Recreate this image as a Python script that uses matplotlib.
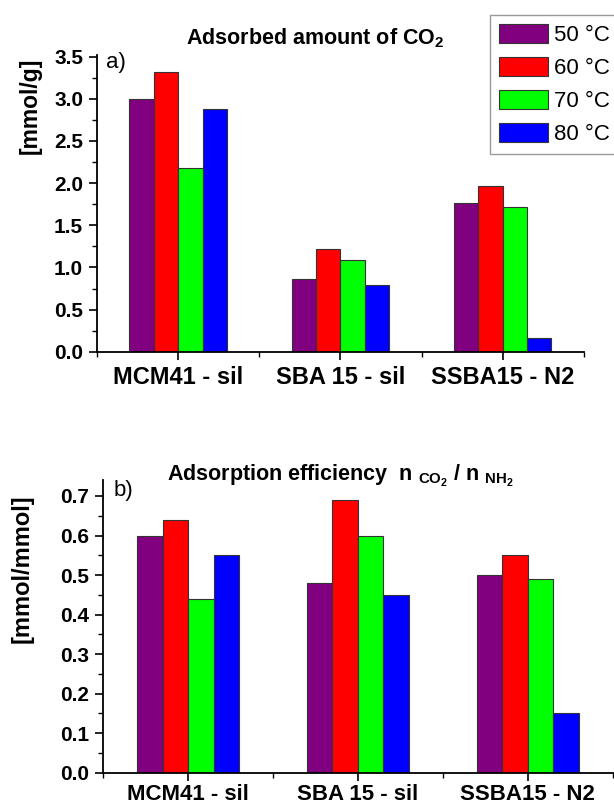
import numpy as np
import matplotlib
matplotlib.use("Agg")
import matplotlib.pyplot as plt
from matplotlib.ticker import MultipleLocator, FixedLocator

plt.rcParams['font.family'] = ['Liberation Sans', 'DejaVu Sans']
plt.rcParams['mathtext.default'] = 'regular'

samples = ["MCM41 - sil", "SBA 15 - sil", "SSBA15 - N2"]
temps = ["50 °C", "60 °C", "70 °C", "80 °C"]
colors = ["#800080", "#ff0000", "#00ff00", "#0000ff"]

# adsorbed CO2 [mmol/g], one list per temperature
co2_50 = [3.00, 0.86, 1.76]
co2_60 = [3.32, 1.22, 1.96]
co2_70 = [2.18, 1.09, 1.72]
co2_80 = [2.88, 0.79, 0.16]

# efficiency n_CO2 / n_NH2 [mmol/mmol]
eff_50 = [0.60, 0.48, 0.50]
eff_60 = [0.64, 0.69, 0.55]
eff_70 = [0.44, 0.60, 0.49]
eff_80 = [0.55, 0.45, 0.15]

x = np.arange(1, len(samples) + 1)
w = 0.15


def draw(ax, series, ymax, major, minor, xfs, xpad):
    for k, vals in enumerate(series):
        ax.bar(x + (k - 1.5) * w, vals, w, color=colors[k], edgecolor="#333333",
               linewidth=0.8, label=temps[k])
    ax.set_xlim(0.5, 3.5)
    ax.set_ylim(0, ymax)
    ax.spines['top'].set_visible(False)
    ax.spines['right'].set_visible(False)
    for s in ['left', 'bottom']:
        ax.spines[s].set_linewidth(1.3)
    ax.set_xticks(x)
    ax.set_xticklabels(samples, fontsize=xfs, fontweight='bold')
    ax.xaxis.set_minor_locator(FixedLocator([0.5, 1.5, 2.5, 3.5]))
    ax.yaxis.set_major_locator(MultipleLocator(major))
    ax.yaxis.set_minor_locator(MultipleLocator(minor))
    ax.yaxis.set_major_formatter(matplotlib.ticker.FormatStrFormatter('%.1f'))
    ax.tick_params(which='major', direction='out', length=6, width=1.2, pad=4)
    ax.tick_params(which='minor', direction='out', length=3.5, width=1.0)
    ax.tick_params(axis='x', which='major', pad=xpad)
    ax.tick_params(axis='y', which='major', labelsize=15)
    for t in ax.get_yticklabels():
        t.set_fontweight('bold')


fig = plt.figure(figsize=(6.14, 8.07), dpi=100)

ax1 = fig.add_axes([0.158, 0.564, 0.793, 0.368])
draw(ax1, [co2_50, co2_60, co2_70, co2_80], 3.52, 0.5, 0.25, 17, 4)
ax1.set_ylabel("[mmol/g]", fontsize=16.5, fontweight='bold')
ax1.yaxis.set_label_coords(-0.113, 0.83)
ax1.text(0.018, 1.01, "a)", transform=ax1.transAxes, fontsize=16, va='top')
fig.text(0.513, 0.953, r"Adsorbed amount of CO$_{2}$", fontsize=15.5,
         fontweight='bold', ha='center', va='center')

ax2 = fig.add_axes([0.168, 0.0425, 0.83, 0.3625])
draw(ax2, [eff_50, eff_60, eff_70, eff_80], 0.74, 0.1, 0.05, 16, 2)
ax2.set_ylabel("[mmol/mmol]", fontsize=17, fontweight='bold')
ax2.yaxis.set_label_coords(-0.137, 0.696)
ax2.text(0.02, 1.0, "b)", transform=ax2.transAxes, fontsize=16, va='top')
fig.text(0.554, 0.41, r"Adsorption efficiency  n $_{CO_{2}}$ / n $_{NH_{2}}$", fontsize=15.5,
         fontweight='bold', ha='center', va='center')

h, l = ax1.get_legend_handles_labels()
fig.legend(h, l, loc='upper left', bbox_to_anchor=(0.798, 0.981), fontsize=16,
           frameon=True, fancybox=False, edgecolor="#999999", framealpha=1,
           handlelength=2.2, handleheight=0.9, labelspacing=0.5, handletextpad=0.3,
           borderpad=0.4, borderaxespad=0)

fig.savefig("out.png", dpi=100)
